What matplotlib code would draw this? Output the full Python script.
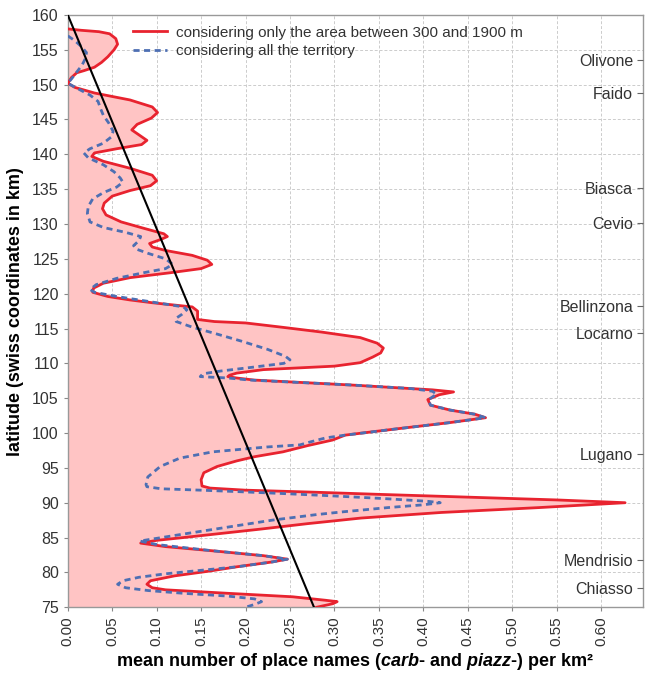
import matplotlib
matplotlib.use("Agg")
import matplotlib.pyplot as plt

plt.rcParams['font.family'] = ['Liberation Sans', 'DejaVu Sans']
plt.rcParams['mathtext.fontset'] = 'custom'
plt.rcParams['mathtext.it'] = 'Liberation Sans:italic:bold'
plt.rcParams['mathtext.rm'] = 'Liberation Sans:bold'

# Red curve: only area between 300 and 1900 m  (latitude, value)
red_lat = [158.0, 157.8, 157.6, 157.3, 156.6, 155.8, 155.0, 154.0, 153.2, 152.5, 152.0, 151.7, 151.0, 150.2,
           149.6, 148.8, 147.8, 146.8, 146.0, 145.2, 144.3, 143.5, 142.8, 142.0, 141.4, 140.8, 140.2, 139.7,
           139.0, 138.0, 137.0, 136.2, 135.5, 134.8, 134.0, 133.0, 132.2, 131.3, 130.3, 129.4, 128.6, 128.2,
           127.8, 127.2, 126.7, 126.2, 125.5, 124.8, 124.2, 123.6, 123.0, 122.3, 121.5, 120.8, 120.2,
           119.6, 119.1, 118.7, 118.1, 117.5, 116.9, 116.3, 116.0, 115.8, 115.2, 114.5, 113.7, 112.9, 112.2,
           111.5, 110.9, 110.1, 109.6, 109.1, 108.6, 108.3, 108.1, 107.9, 107.6, 106.9, 106.2, 105.9,
           105.5, 104.8, 104.0, 103.3, 102.7, 102.2, 101.5, 100.6, 99.7, 99.0, 98.2, 97.3, 96.6, 96.0,
           95.2, 94.3, 93.3, 92.4, 92.1, 91.8, 91.5, 91.2, 90.8, 90.4, 90.0, 89.3, 88.6, 87.8, 87.0,
           86.2, 85.0, 84.6, 84.2, 83.7, 83.1, 82.4, 81.9, 81.5, 80.8, 80.2, 79.5, 78.8, 78.3, 77.8,
           77.5, 77.0, 76.5, 76.0, 75.8, 75.5, 75.2, 75.0]
red_val = [0.000, 0.015, 0.035, 0.047, 0.054, 0.056, 0.052, 0.045, 0.038, 0.030, 0.018, 0.010, 0.004, 0.000,
           0.008, 0.030, 0.070, 0.095, 0.101, 0.094, 0.078, 0.072, 0.080, 0.089, 0.083, 0.055, 0.030, 0.027,
           0.040, 0.070, 0.095, 0.100, 0.093, 0.070, 0.050, 0.041, 0.039, 0.043, 0.060, 0.085, 0.108, 0.112,
           0.105, 0.092, 0.095, 0.110, 0.140, 0.157, 0.162, 0.150, 0.115, 0.070, 0.040, 0.029, 0.028,
           0.045, 0.070, 0.095, 0.140, 0.146, 0.146, 0.146, 0.165, 0.200, 0.240, 0.285, 0.329, 0.348, 0.355,
           0.352, 0.343, 0.329, 0.300, 0.220, 0.190, 0.182, 0.180, 0.190, 0.210, 0.318, 0.410, 0.434,
           0.418, 0.405, 0.408, 0.430, 0.458, 0.470, 0.430, 0.370, 0.312, 0.298, 0.270, 0.242, 0.210, 0.190,
           0.168, 0.153, 0.150, 0.151, 0.160, 0.200, 0.280, 0.350, 0.450, 0.550, 0.627, 0.530, 0.420, 0.330, 0.270,
           0.216, 0.130, 0.100, 0.082, 0.110, 0.163, 0.220, 0.247, 0.230, 0.190, 0.160, 0.120, 0.093, 0.089, 0.095,
           0.110, 0.180, 0.253, 0.290, 0.303, 0.298, 0.287, 0.280]

# Blue dashed curve: all the territory  (latitude, value)
blue_lat = [157.0, 156.3, 155.5, 154.6, 153.8, 152.8, 151.8, 150.8, 150.2,
            149.5, 148.5, 147.6, 146.5, 145.6, 144.5, 143.3, 142.5, 141.6, 140.8, 140.2, 139.5, 138.5,
            137.5, 136.6, 136.0, 135.3, 134.5, 133.6, 132.5, 131.5, 130.3, 129.5, 128.8, 128.2, 127.6,
            126.9, 126.4, 125.8, 125.0, 124.2, 123.6, 123.0, 122.2, 121.3, 120.6, 120.2, 119.6, 119.1,
            118.6, 118.1, 117.7, 117.0, 116.4, 116.0, 115.2, 114.2, 113.2, 112.0, 111.0, 110.5, 110.0,
            109.4, 108.9, 108.5, 108.1, 107.9, 107.6, 106.9, 106.4, 106.0, 105.6, 104.8, 104.0, 103.3,
            102.7, 102.2, 101.5, 100.6, 99.7, 99.3, 98.8, 98.3, 98.0, 97.3, 96.4, 95.2, 93.7, 92.6, 92.3,
            92.0, 91.8, 91.6, 91.3, 91.0, 90.6, 90.2, 90.0, 89.7, 89.3, 88.7, 88.3, 87.5, 86.5, 85.5, 84.5,
            84.0, 83.5, 83.1, 82.4, 81.9, 81.5, 80.8, 80.3, 79.8, 79.3, 78.8, 78.3, 77.8, 77.4, 77.0, 76.6,
            76.2, 75.8, 75.4, 75.0]
blue_val = [0.000, 0.008, 0.015, 0.021, 0.020, 0.016, 0.010, 0.004, 0.000,
            0.010, 0.025, 0.034, 0.037, 0.040, 0.046, 0.051, 0.049, 0.040, 0.025, 0.018, 0.023, 0.040,
            0.052, 0.059, 0.062, 0.055, 0.040, 0.028, 0.023, 0.022, 0.025, 0.040, 0.065, 0.082, 0.080,
            0.074, 0.077, 0.090, 0.110, 0.118, 0.110, 0.085, 0.055, 0.032, 0.025, 0.030, 0.055, 0.080,
            0.105, 0.130, 0.134, 0.128, 0.121, 0.122, 0.140, 0.168, 0.195, 0.225, 0.245, 0.250, 0.243,
            0.205, 0.172, 0.152, 0.149, 0.180, 0.205, 0.318, 0.385, 0.410, 0.415, 0.406, 0.408, 0.430,
            0.458, 0.470, 0.430, 0.370, 0.312, 0.290, 0.275, 0.261, 0.224, 0.163, 0.126, 0.104, 0.090, 0.088, 0.089,
            0.105, 0.150, 0.190, 0.245, 0.295, 0.355, 0.405, 0.419, 0.400, 0.360, 0.310, 0.280, 0.230, 0.180, 0.130, 0.081,
            0.100, 0.135, 0.163, 0.220, 0.247, 0.230, 0.190, 0.150, 0.110, 0.080, 0.062, 0.056, 0.065, 0.090, 0.130, 0.180,
            0.210, 0.218, 0.210, 0.200]

# Straight reference line (value, latitude)
trend_val = [0.0, 0.277]
trend_lat = [160.0, 75.0]

towns = ['Olivone', 'Faido', 'Biasca', 'Cevio', 'Bellinzona', 'Locarno', 'Lugano', 'Mendrisio', 'Chiasso']
town_lat = [153.6, 148.8, 135.2, 130.2, 118.2, 114.3, 97.0, 81.8, 77.8]

x_ticks = [0.00, 0.05, 0.10, 0.15, 0.20, 0.25, 0.30, 0.35, 0.40, 0.45, 0.50, 0.55, 0.60]
y_ticks = list(range(75, 161, 5))

fig = plt.figure(figsize=(6.52, 6.8), dpi=100)
ax = fig.add_axes([0.104, 0.107, 0.882, 0.871])

red = '#e8232f'
blue = '#4d6fb3'
pink = '#ffc4c4'

ax.fill_betweenx(red_lat, 0, red_val, color=pink, lw=0, zorder=1)
ax.plot(red_val, red_lat, color=red, lw=2.0, zorder=3,
        label='considering only the area between 300 and 1900 m')
ax.plot(blue_val, blue_lat, color=blue, lw=2.0, ls=(0, (2.2, 1.6)), zorder=4,
        label='considering all the territory')
ax.plot(trend_val, trend_lat, color='black', lw=1.5, zorder=5)

ax.set_xlim(0, 0.647)
ax.set_ylim(75, 160)
ax.set_xticks(x_ticks)
ax.set_xticklabels([f'{v:.2f}' for v in x_ticks], rotation=90, fontsize=11, color='#333333')
ax.set_yticks(y_ticks)
ax.set_yticklabels([str(v) for v in y_ticks], fontsize=11.5, color='#333333')
ax.tick_params(axis='both', direction='out', length=3, color='#888888')
ax.grid(True, color='#cccccc', lw=0.7, ls=(0, (3, 2)), zorder=0)
ax.set_axisbelow(True)
for s in ax.spines.values():
    s.set_color('#999999')
    s.set_linewidth(1.0)

ax.set_ylabel('latitude (swiss coordinates in km)', fontsize=13, fontweight='bold', labelpad=6)
ax.set_xlabel('mean number of place names ($carb$- and $piazz$-) per km²',
              fontsize=13, fontweight='bold', labelpad=4)

ax2 = ax.twinx()
ax2.set_ylim(75, 160)
ax2.set_yticks(town_lat)
ax2.set_yticklabels(towns, fontsize=11.5, color='#333333')
ax2.tick_params(axis='y', direction='in', length=4, pad=-7, color='#666666')
for lab in ax2.get_yticklabels():
    lab.set_horizontalalignment('right')
for s in ax2.spines.values():
    s.set_visible(False)

leg = ax.legend(loc='upper left', bbox_to_anchor=(0.09, 1.005), frameon=False,
                fontsize=11, handlelength=2.2, handletextpad=0.6, labelspacing=0.3)
for t in leg.get_texts():
    t.set_color('#333333')

fig.savefig('out.png', dpi=100)
